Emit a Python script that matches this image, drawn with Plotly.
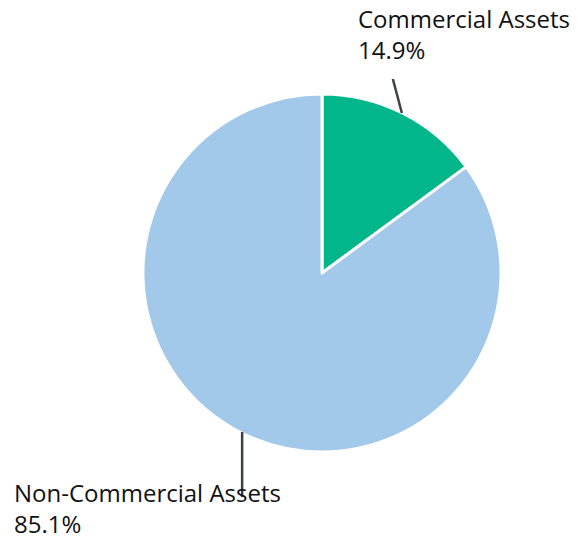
import math
import plotly.graph_objects as go

labels = ["Commercial Assets", "Non-Commercial Assets"]
values = [14.9, 85.1]
colors = ["#00B68A", "#A2C8EA"]

W, H = 580, 540
cx, cy, r = 322, 273, 177  # pie centre and radius, pixels

fig = go.Figure(go.Pie(
    labels=labels,
    values=values,
    sort=False,
    direction="clockwise",
    rotation=0,
    marker=dict(colors=colors, line=dict(color="white", width=3)),
    textinfo="none",
    hoverinfo="label+percent",
    domain=dict(x=[(cx - r - 2) / W, (cx + r + 2) / W],
                y=[(H - cy - r - 2) / H, (H - cy + r + 2) / H]),
    showlegend=False,
))

# leader lines start at each slice's mid-angle on the rim
total = sum(values)
start = 0.0
mids = []
for v in values:
    mids.append(start + v / total * 180.0)
    start += v / total * 360.0

def rim(angle_deg):
    a = math.radians(angle_deg)
    return cx + r * math.sin(a), cy - r * math.cos(a)

def px(x, y):
    return x / W, 1 - y / H

shapes = []
x0, y0 = rim(mids[0])
shapes.append((px(x0, y0 - 2), px(x0 - 9, y0 - 36)))
x1, y1 = rim(mids[1])
shapes.append((px(x1, y1 + 1), px(x1, y1 + 66)))

for (a, b) in shapes:
    fig.add_shape(type="line", xref="paper", yref="paper",
                  x0=a[0], y0=a[1], x1=b[0], y1=b[1],
                  line=dict(color="#3d4148", width=2.5))

font = dict(family="Open Sans", size=24, color="#111111")
fig.add_annotation(x=356 / W, y=1 - 0 / H, xref="paper", yref="paper",
                   xanchor="left", yanchor="top", align="left", showarrow=False,
                   text=f"{labels[0]}<br>{values[0]:.1f}%", font=font)
fig.add_annotation(x=12 / W, y=1 - 474 / H, xref="paper", yref="paper",
                   xanchor="left", yanchor="top", align="left", showarrow=False,
                   text=f"{labels[1]}<br>{values[1]:.1f}%", font=font)

fig.update_layout(width=W, height=H, margin=dict(l=0, r=0, t=0, b=0),
                  paper_bgcolor="white", plot_bgcolor="white")
fig.write_html("out.html")
